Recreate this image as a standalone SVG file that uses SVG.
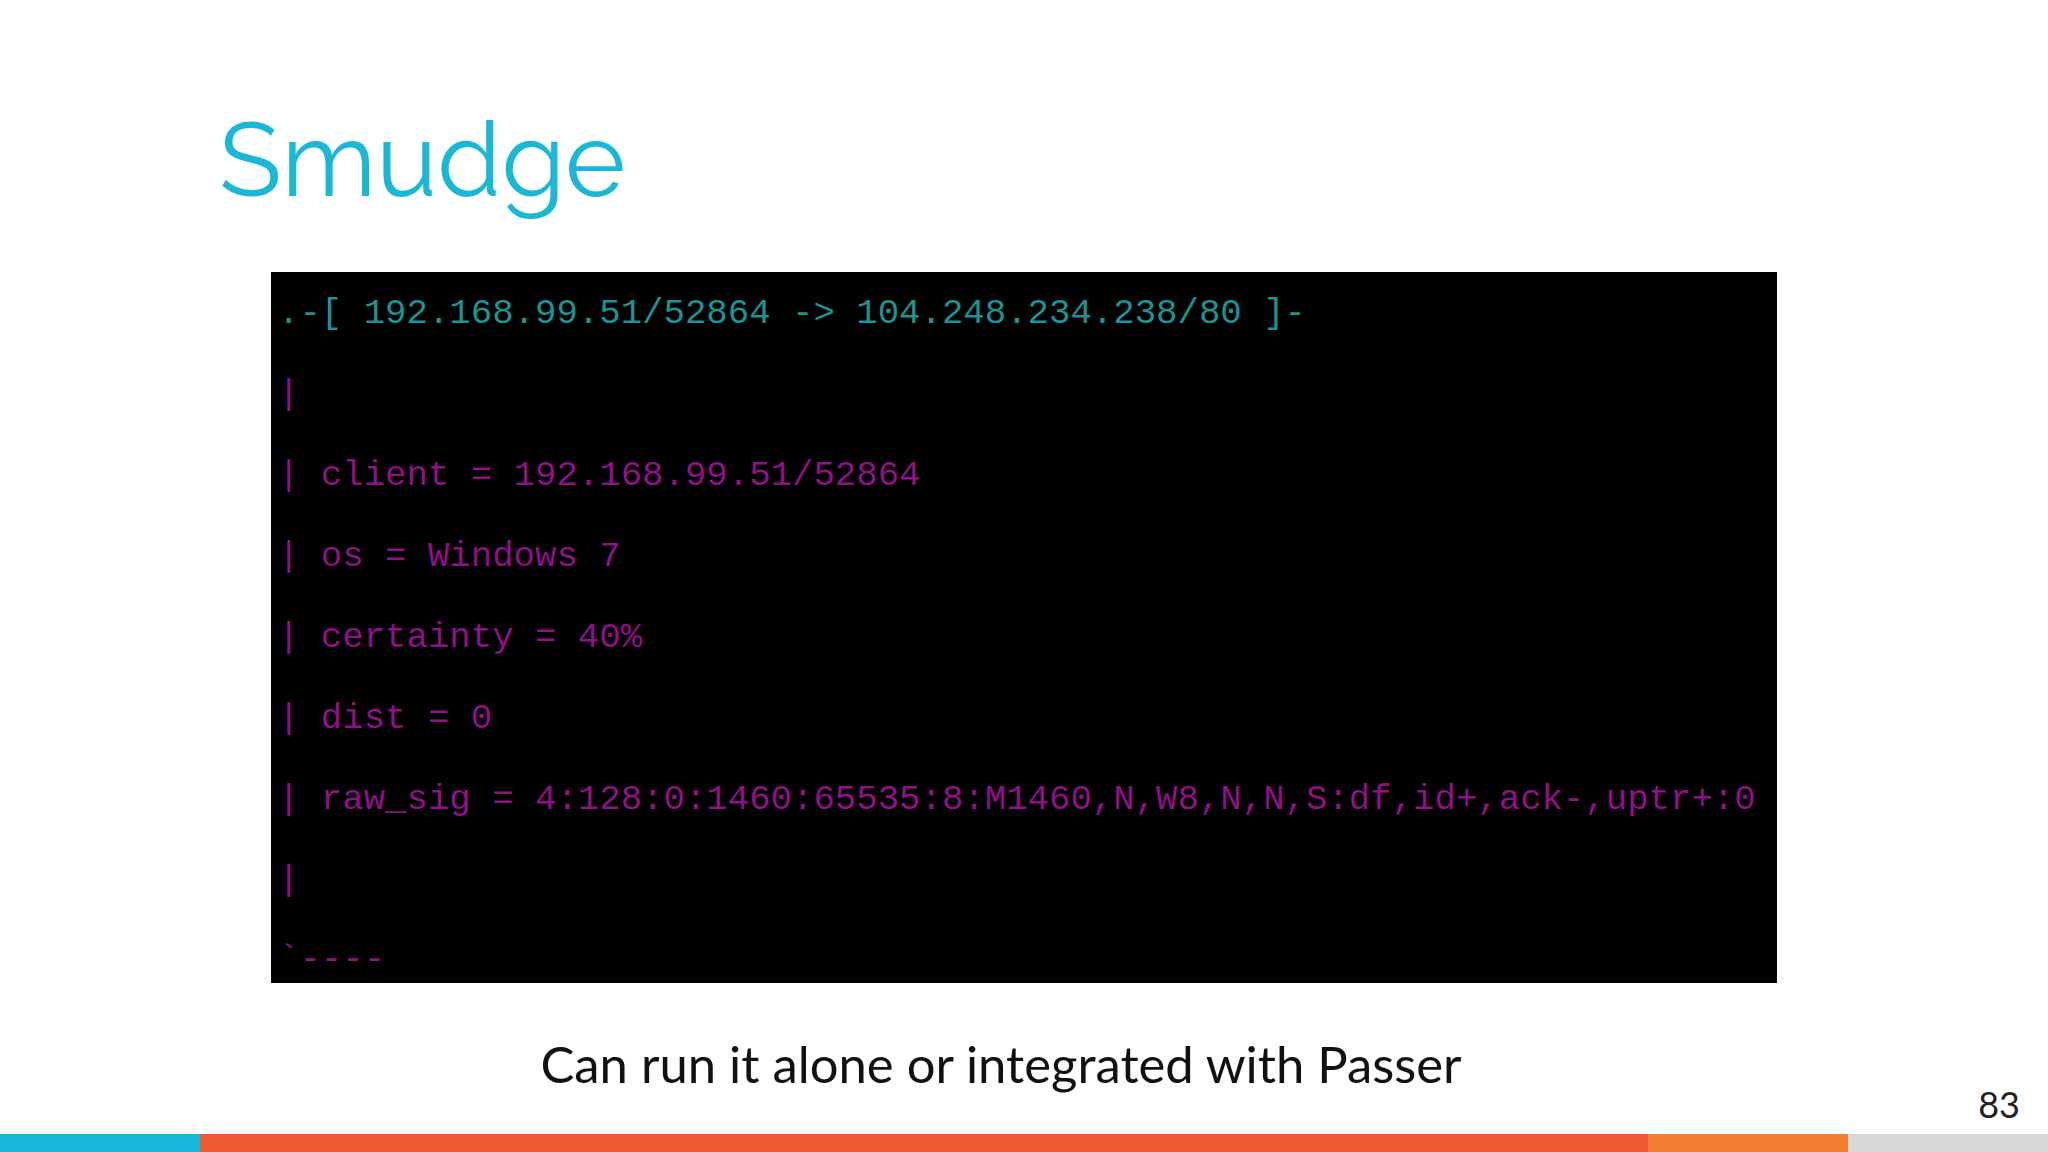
<svg xmlns="http://www.w3.org/2000/svg" width="2048" height="1152" viewBox="0 0 2048 1152">
<style>
.t{font-family:"Liberation Mono",monospace;font-size:35.7px}
.c{fill:#1a9494}.m{fill:#901088}
</style>
<rect width="2048" height="1152" fill="#fff"/>
<text x="219" y="196" font-family="Raleway,Lato,'Open Sans',sans-serif" font-size="103" fill="#1ab8d6">Smudge</text>
<g id="terminal">
<rect x="271" y="272" width="1506" height="711" fill="#000"/>
<text class="t c" x="278" y="323" xml:space="preserve">.-[ 192.168.99.51/52864 -&gt; 104.248.234.238/80 ]-</text>
<text class="t m" x="278" y="404">|</text>
<text class="t m" x="278" y="485" xml:space="preserve">| client = 192.168.99.51/52864</text>
<text class="t m" x="278" y="566" xml:space="preserve">| os = Windows 7</text>
<text class="t m" x="278" y="647" xml:space="preserve">| certainty = 40%</text>
<text class="t m" x="278" y="728" xml:space="preserve">| dist = 0</text>
<text class="t m" x="278" y="809" xml:space="preserve">| raw_sig = 4:128:0:1460:65535:8:M1460,N,W8,N,N,S:df,id+,ack-,uptr+:0</text>
<text class="t m" x="278" y="890">|</text>
<text class="t m" x="278" y="969">`----</text>
</g>
<text x="1001" y="1083" text-anchor="middle" font-family="Lato,sans-serif" font-size="50.8" fill="#111">Can run it alone or integrated with Passer</text>
<text x="2020" y="1118" text-anchor="end" font-family="Lato,sans-serif" font-size="36" fill="#222">83</text>
<rect x="0" y="1134" width="200" height="18" fill="#18b8dc"/>
<rect x="200" y="1134" width="1448" height="18" fill="#f05a30"/>
<rect x="1648" y="1134" width="200" height="18" fill="#f47c30"/>
<rect x="1848" y="1134" width="200" height="18" fill="#d8d8d8"/>
</svg>
